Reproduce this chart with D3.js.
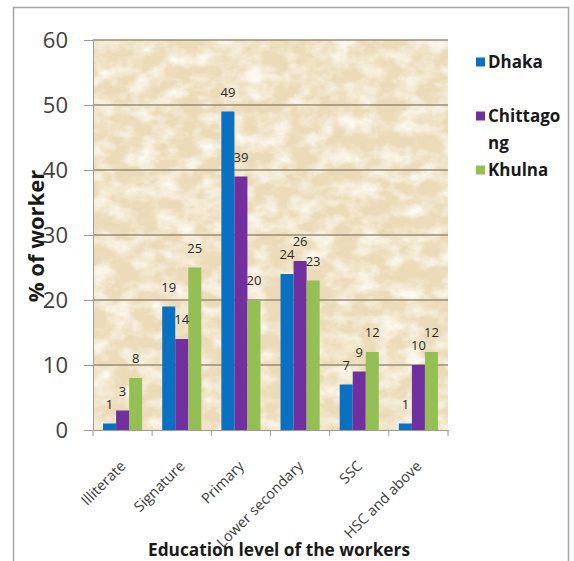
<!DOCTYPE html>
<html>
<head>
<meta charset="utf-8">
<script src="https://cdn.jsdelivr.net/npm/d3@7"></script>
<style>
  html, body { margin: 0; padding: 0; background: #fff; }
  svg { display: block; font-family: "Open Sans", "DejaVu Sans", sans-serif; }
</style>
</head>
<body>
<svg id="chart" width="574" height="561"></svg>
<script>
// Education level of workers by city (% of workers)
const categories = ["Illiterate", "Signature", "Primary", "Lower secondary", "SSC", "HSC and above"];
const seriesNames = ["Dhaka", "Chittagong", "Khulna"];
const legendLabels = [["Dhaka"], ["Chittago", "ng"], ["Khulna"]];
const dhaka = [1, 19, 49, 24, 7, 1];
const chittagong = [3, 14, 39, 26, 9, 10];
const khulna = [8, 25, 20, 23, 12, 12];
const yTicks = [0, 10, 20, 30, 40, 50, 60];
const colors = ["#0a70c2", "#7030a0", "#93bf55"];

const seriesValues = [dhaka, chittagong, khulna];
const rows = categories.map((c, i) => ({
  category: c,
  values: seriesNames.map((s, k) => ({ series: s, k, value: seriesValues[k][i] }))
}));

const svg = d3.select("#chart");
const plot = { left: 93, top: 40, right: 448, bottom: 430 };

// outer frame
svg.append("rect")
  .attr("x", 13.5).attr("y", 7.5).attr("width", 555).attr("height", 580)
  .attr("fill", "#fff").attr("stroke", "#a6a6a6").attr("stroke-width", 1.5);

// parchment texture for the plot area: beige base with soft lighter and darker mottling
const defs = svg.append("defs");
const light = defs.append("filter").attr("id", "parchment-light")
  .attr("x", 0).attr("y", 0).attr("width", 1).attr("height", 1);
light.append("feTurbulence").attr("type", "fractalNoise")
  .attr("baseFrequency", "0.045 0.06").attr("numOctaves", 4).attr("seed", 11);
light.append("feColorMatrix").attr("type", "matrix")
  .attr("values", "0 0 0 0 0.98  0 0 0 0 0.95  0 0 0 0 0.88  2.2 0 0 0 -0.85");
const dark = defs.append("filter").attr("id", "parchment-dark")
  .attr("x", 0).attr("y", 0).attr("width", 1).attr("height", 1);
dark.append("feTurbulence").attr("type", "fractalNoise")
  .attr("baseFrequency", "0.06 0.08").attr("numOctaves", 3).attr("seed", 4);
dark.append("feColorMatrix").attr("type", "matrix")
  .attr("values", "0 0 0 0 0.85  0 0 0 0 0.74  0 0 0 0 0.55  -2.0 0 0 0 0.85");

const plotW = plot.right - plot.left, plotH = plot.bottom - plot.top;
svg.append("rect")
  .attr("x", plot.left).attr("y", plot.top).attr("width", plotW).attr("height", plotH)
  .attr("fill", "#ecdbb9");
svg.append("rect")
  .attr("x", plot.left).attr("y", plot.top).attr("width", plotW).attr("height", plotH)
  .attr("fill", "#fff").attr("filter", "url(#parchment-dark)");
svg.append("rect")
  .attr("x", plot.left).attr("y", plot.top).attr("width", plotW).attr("height", plotH)
  .attr("fill", "#fff").attr("filter", "url(#parchment-light)");

const x = d3.scaleBand().domain(categories).range([plot.left, plot.right]).paddingInner(0).paddingOuter(0);
const inner = d3.scaleBand().domain(d3.range(3)).range([0, x.bandwidth()]).paddingInner(0).paddingOuter(0.77);
const y = d3.scaleLinear().domain([0, 60]).range([plot.bottom, plot.top]);

// gridlines
svg.append("g").selectAll("line").data(yTicks.filter(t => t > 0)).join("line")
  .attr("x1", plot.left).attr("x2", plot.right)
  .attr("y1", d => y(d)).attr("y2", d => y(d))
  .attr("stroke", "#998c76").attr("stroke-width", 1.3);

// y axis
const yAxis = svg.append("g").attr("transform", `translate(${plot.left},0)`)
  .call(d3.axisLeft(y).tickValues(yTicks).tickSize(9).tickPadding(16));
yAxis.select(".domain").attr("stroke", "#a09a90");
yAxis.selectAll(".tick line").attr("stroke", "#a09a90");
yAxis.selectAll(".tick text").attr("font-size", 22).attr("fill", "#404040")
  .attr("font-family", "'Open Sans', sans-serif");

// bars
const groups = svg.append("g").selectAll("g").data(rows).join("g")
  .attr("transform", d => `translate(${x(d.category)},0)`);
groups.selectAll("rect").data(d => d.values).join("rect")
  .attr("x", d => inner(d.k)).attr("width", inner.bandwidth())
  .attr("y", d => y(d.value)).attr("height", d => y(0) - y(d.value))
  .attr("fill", d => colors[d.k]);
groups.selectAll("text").data(d => d.values).join("text")
  .attr("x", d => inner(d.k) + inner.bandwidth() / 2)
  .attr("y", d => y(d.value) - 15)
  .attr("text-anchor", "middle").attr("font-size", 13).attr("fill", "#2a2a2a")
  .text(d => d.value);

// x axis
const xAxis = svg.append("g").attr("transform", `translate(0,${plot.bottom})`)
  .call(d3.axisBottom(x).tickSize(0).tickFormat(""));
xAxis.select(".domain").attr("stroke", "#a09a90");
// boundary ticks between categories
svg.append("g").selectAll("line").data(d3.range(categories.length + 1)).join("line")
  .attr("x1", i => plot.left + i * x.step()).attr("x2", i => plot.left + i * x.step())
  .attr("y1", plot.bottom).attr("y2", plot.bottom + 6)
  .attr("stroke", "#a09a90");
// rotated category labels
svg.append("g").selectAll("text").data(categories).join("text")
  .attr("transform", d => `translate(${x(d) + x.bandwidth() / 2 + 4},${plot.bottom + 37}) rotate(-45)`)
  .attr("text-anchor", "end").attr("font-size", 14.5).attr("fill", "#3a3a3a")
  .text(d => d);

// axis titles
svg.append("text")
  .attr("transform", `translate(44,236) rotate(-90)`)
  .attr("text-anchor", "middle").attr("font-size", 22).attr("font-weight", "bold").attr("fill", "#1a1a1a")
  .text("% of worker");
svg.append("text")
  .attr("x", 279).attr("y", 556)
  .attr("text-anchor", "middle").attr("font-size", 17.3).attr("font-weight", "bold").attr("fill", "#1a1a1a")
  .text("Education level of the workers");

// legend
const legendY = [62, 116, 170];
const legend = svg.append("g").selectAll("g").data(seriesNames).join("g")
  .attr("transform", (d, i) => `translate(476,${legendY[i]})`);
legend.append("rect").attr("x", 0).attr("y", -4.5).attr("width", 9).attr("height", 9)
  .attr("fill", (d, i) => colors[i]);
legend.append("text").attr("x", 12).attr("y", 0)
  .attr("font-size", 17).attr("font-weight", "bold").attr("fill", "#1a1a1a")
  .selectAll("tspan").data((d, i) => legendLabels[i]).join("tspan")
  .attr("x", 12).attr("dy", (t, j) => j === 0 ? "0.35em" : "1.6em")
  .text(t => t);
</script>
</body>
</html>
